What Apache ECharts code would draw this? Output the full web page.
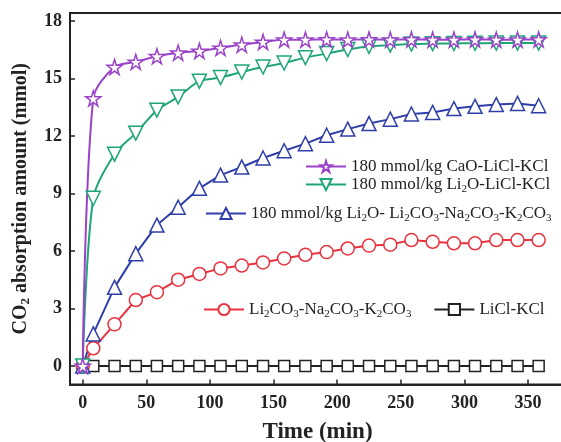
<!DOCTYPE html>
<html>
<head>
<meta charset="utf-8">
<script src="https://cdn.jsdelivr.net/npm/echarts@6/dist/echarts.min.js"></script>
<style>
  html, body { margin: 0; padding: 0; background: #fff; }
  #main { width: 561px; height: 442px; }
</style>
</head>
<body>
<div id="main"></div>
<script>
// sampling times (min)
const times = [0, 8.3, 25, 41.7, 58.3, 75, 91.7, 108.3, 125, 141.7, 158.3, 175, 191.7, 208.3, 225, 241.7, 258.3, 275, 291.7, 308.3, 325, 341.7, 358.3]

// CO2 absorption amount (mmol)
const caoLiclKcl = [0, 13.96, 15.6, 15.87, 16.16, 16.35, 16.44, 16.6, 16.77, 16.91, 17.03, 17.03, 17.04, 17.03, 17.04, 17.03, 17.04, 17.03, 17.03, 17.04, 17.03, 17.03, 17.04]
const li2oLiclKcl = [0, 8.75, 11.05, 12.15, 13.35, 14.04, 14.86, 15.05, 15.34, 15.6, 15.81, 16.09, 16.3, 16.51, 16.68, 16.74, 16.8, 16.82, 16.83, 16.84, 16.85, 16.85, 16.85]
const li2oCarbonate = [0, 1.67, 4.1, 5.86, 7.35, 8.28, 9.27, 9.96, 10.38, 10.85, 11.23, 11.6, 12.04, 12.36, 12.65, 12.88, 13.15, 13.23, 13.43, 13.55, 13.64, 13.7, 13.58]
const carbonate = [0, 0.92, 2.17, 3.44, 3.85, 4.5, 4.8, 5.09, 5.24, 5.4, 5.61, 5.8, 5.94, 6.13, 6.28, 6.33, 6.57, 6.48, 6.4, 6.4, 6.57, 6.57, 6.57]
const liclKcl = [0, 0, 0, 0, 0, 0, 0, 0, 0, 0, 0, 0, 0, 0, 0, 0, 0, 0, 0, 0, 0, 0, 0]

const xTicks = [0, 50, 100, 150, 200, 250, 300, 350]
const yTicks = [0, 3, 6, 9, 12, 15, 18]

// legend names and their rich text
const names = [
  '180 mmol/kg CaO-LiCl-KCl',
  '180 mmol/kg Li2O-LiCl-KCl',
  '180 mmol/kg Li2O- Li2CO3-Na2CO3-K2CO3',
  'Li2CO3-Na2CO3-K2CO3',
  'LiCl-KCl'
]
const richNames = {}
richNames[names[0]] = '{n|180 mmol/kg CaO-LiCl-KCl}'
richNames[names[1]] = '{n|180 mmol/kg Li}{s|2}{n|O-LiCl-KCl}'
richNames[names[2]] = '{n|180 mmol/kg Li}{s|2}{n|O- Li}{s|2}{n|CO}{s|3}{n|-Na}{s|2}{n|CO}{s|3}{n|-K}{s|2}{n|CO}{s|3}'
richNames[names[3]] = '{n|Li}{s|2}{n|CO}{s|3}{n|-Na}{s|2}{n|CO}{s|3}{n|-K}{s|2}{n|CO}{s|3}'
richNames[names[4]] = '{n|LiCl-KCl}'

const starPath = 'path://M50,0 L61,35 L98,35 L68,57 L79,91 L50,70 L21,91 L32,57 L2,35 L39,35 Z'
const serif = 'Liberation Serif'

function pairs (vals) {
  return times.map((t, i) => [t, vals[i]])
}

function makeSeries (name, vals, color, symbol, size, extra) {
  return Object.assign({
    name: name,
    type: 'line',
    data: pairs(vals),
    symbol: symbol,
    symbolSize: size,
    showAllSymbol: true,
    lineStyle: { color: color, width: 2 },
    itemStyle: { color: '#fff', borderColor: color, borderWidth: 1.5 },
    emphasis: { disabled: true },
    animation: false
  }, extra || {})
}

const legendText = {
  fontFamily: serif,
  color: '#222',
  rich: {
    n: { fontFamily: serif, fontSize: 17, color: '#222' },
    s: { fontFamily: serif, fontSize: 11, color: '#222', padding: [9, 0, 0, 0] }
  }
}

let chart = echarts.init(document.getElementById('main'))
chart.setOption({
  backgroundColor: '#fff',
  grid: {
    left: 70,
    top: 13,
    width: 495,
    height: 371.5,
    outerBoundsMode: 'none',
    show: true,
    borderColor: '#222',
    borderWidth: 2
  },
  xAxis: {
    type: 'value',
    min: -10,
    max: 379,
    name: 'Time (min)',
    nameLocation: 'middle',
    nameGap: 36,
    nameTextStyle: { fontFamily: serif, fontWeight: 'bold', fontSize: 23, color: '#222' },
    splitLine: { show: false },
    axisLine: { onZero: false, lineStyle: { color: '#222', width: 2 } },
    axisTick: { inside: true, length: 5, customValues: xTicks, lineStyle: { color: '#222', width: 1.5 } },
    axisLabel: { customValues: xTicks, margin: 10, fontFamily: serif, fontWeight: 'bold', fontSize: 18, color: '#222' }
  },
  yAxis: {
    type: 'value',
    min: -0.97,
    max: 18.42,
    name: '{b|CO}{bs|2}{b| absorption amount (mmol)}',
    nameLocation: 'middle',
    nameRotate: 90,
    nameGap: 38,
    nameTextStyle: {
      rich: {
        b: { fontFamily: serif, fontWeight: 'bold', fontSize: 20, color: '#222' },
        bs: { fontFamily: serif, fontWeight: 'bold', fontSize: 13, color: '#222', padding: [10, 0, 0, 0] }
      }
    },
    splitLine: { show: false },
    axisLine: { show: true, onZero: false, lineStyle: { color: '#222', width: 2 } },
    axisTick: { show: true, inside: true, length: 5, customValues: yTicks, lineStyle: { color: '#222', width: 1.5 } },
    axisLabel: { customValues: yTicks, margin: 8, fontFamily: serif, fontWeight: 'bold', fontSize: 18, color: '#222' }
  },
  legend: [
    {
      data: [names[0], names[1]],
      orient: 'vertical',
      left: 300,
      top: 153,
      itemGap: 1,
      itemWidth: 40,
      itemHeight: 14,
      formatter: n => richNames[n],
      textStyle: legendText
    },
    {
      data: [names[2]],
      left: 200,
      top: 200,
      itemWidth: 40,
      itemHeight: 14,
      formatter: n => richNames[n],
      textStyle: legendText
    },
    {
      data: [names[3], names[4]],
      left: 198,
      top: 296,
      itemGap: 22,
      itemWidth: 40,
      itemHeight: 14,
      formatter: n => richNames[n],
      textStyle: legendText
    }
  ],
  series: [
    makeSeries(names[4], liclKcl, '#222222', 'rect', 11),
    makeSeries(names[3], carbonate, '#e8323e', 'circle', 13),
    makeSeries(names[2], li2oCarbonate, '#2f3ea8', 'triangle', 14),
    makeSeries(names[1], li2oLiclKcl, '#1fa57a', 'triangle', 14, { symbolRotate: 180, smooth: 0.3 }),
    makeSeries(names[0], caoLiclKcl, '#9a42c8', starPath, 15, { smooth: 0.3 })
  ]
})
</script>
</body>
</html>
